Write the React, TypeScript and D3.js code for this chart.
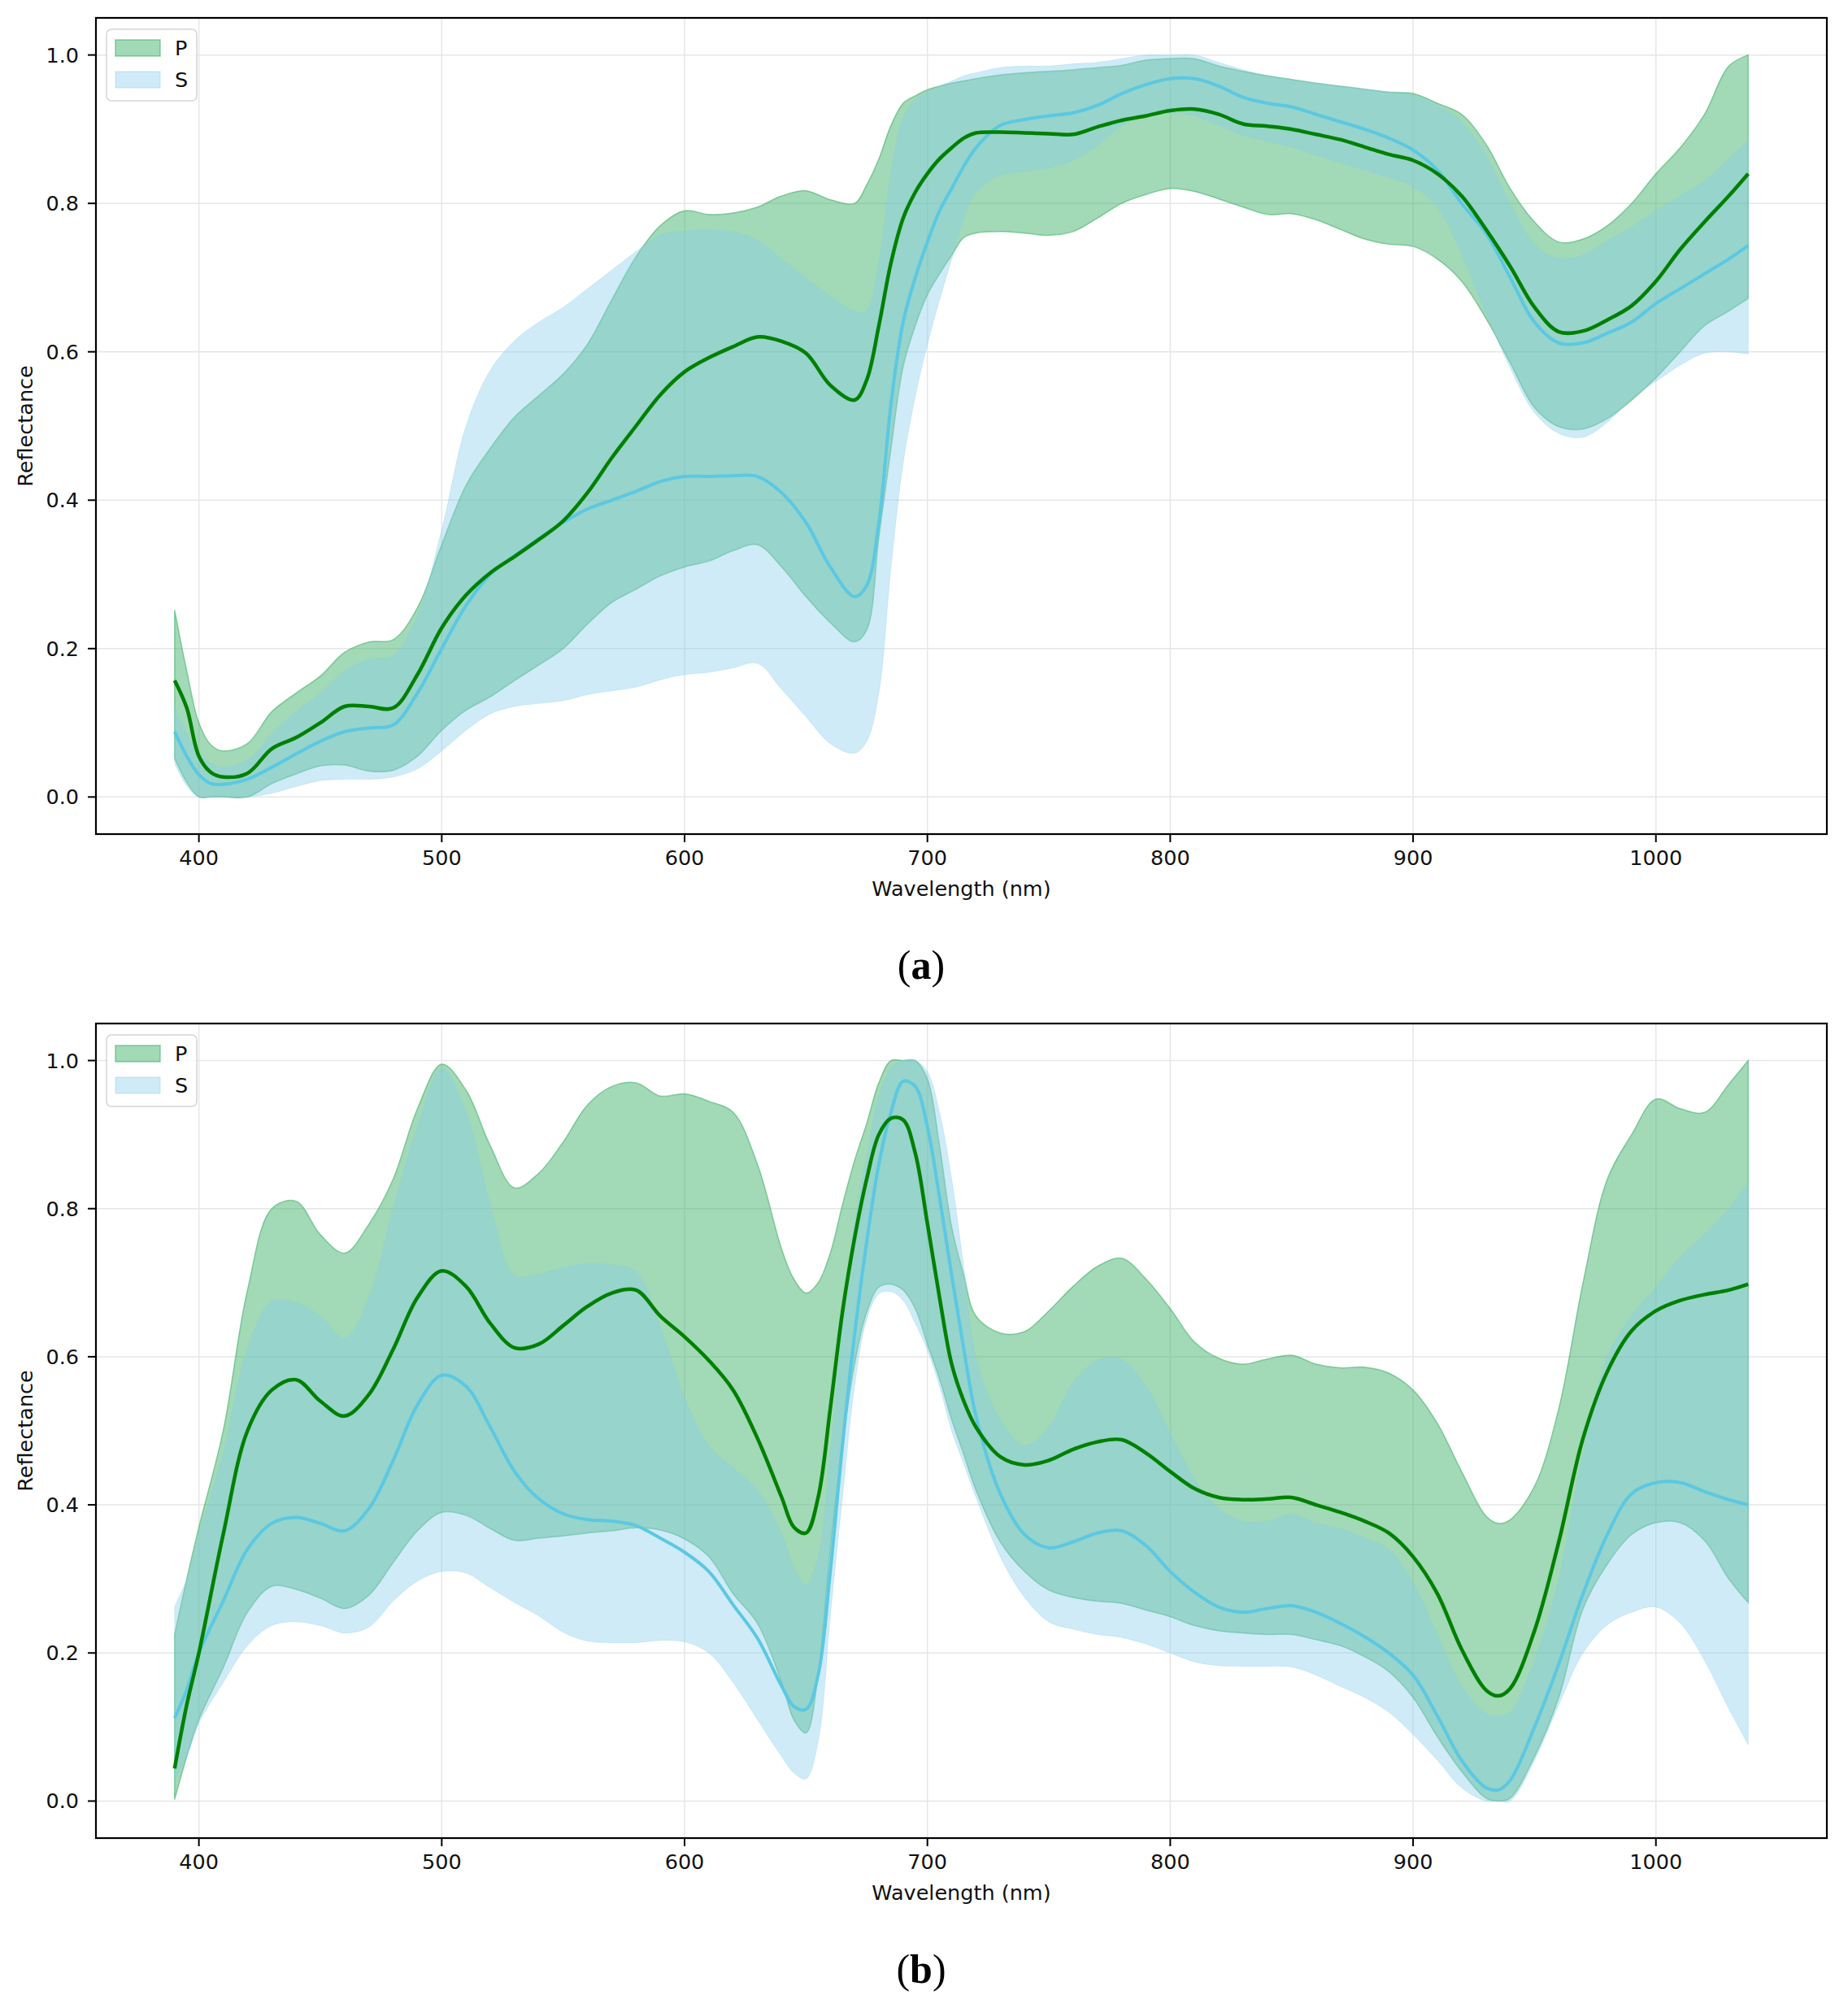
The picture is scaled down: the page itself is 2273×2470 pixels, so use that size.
import React from 'react';
import * as d3 from 'd3';

// ---- panel (a) ----
const wlA = [390, 395, 400, 405, 410,
  420, 430, 440, 450, 460, 470, 480, 490, 500, 510, 520, 530, 540, 550, 560, 570, 580, 590, 600, 610, 620, 630, 640, 650, 660, 670,
  675, 680, 685, 690, 695, 700, 705, 710, 715, 720,
  730, 740, 750, 760, 770, 780, 790, 800, 810, 820, 830, 840, 850, 860, 870, 880, 890, 900, 910, 920, 930, 940, 950, 960, 970, 980, 990, 1000, 1010, 1020, 1030,
  1038];

const pMeanA = [0.157, 0.12, 0.055, 0.033, 0.027,
  0.032, 0.065, 0.08, 0.10, 0.122, 0.122, 0.12, 0.165, 0.228, 0.272, 0.302, 0.324, 0.347, 0.372, 0.41, 0.457, 0.50, 0.542, 0.573, 0.592, 0.607, 0.62, 0.614, 0.598, 0.555, 0.535,
  0.562, 0.635, 0.72, 0.78, 0.815, 0.84, 0.86, 0.875, 0.888, 0.895,
  0.896, 0.895, 0.894, 0.893, 0.903, 0.912, 0.918, 0.925, 0.927, 0.92, 0.907, 0.904, 0.9, 0.893, 0.886, 0.876, 0.866, 0.858, 0.84, 0.81, 0.765, 0.715, 0.66, 0.627, 0.628, 0.643, 0.662, 0.695, 0.738, 0.775, 0.81,
  0.84];
const pLowA = [0.052, 0.02, 0.0, 0.0, 0.0,
  0.0, 0.018, 0.031, 0.042, 0.043, 0.035, 0.036, 0.055, 0.09, 0.117, 0.135, 0.157, 0.178, 0.2, 0.233, 0.262, 0.28, 0.298, 0.31, 0.318, 0.332, 0.34, 0.31, 0.27, 0.235, 0.209,
  0.225, 0.35, 0.47, 0.58, 0.635, 0.677, 0.705, 0.73, 0.754, 0.76,
  0.762, 0.76, 0.757, 0.762, 0.78, 0.80, 0.812, 0.82, 0.816, 0.806, 0.795, 0.785, 0.786, 0.778, 0.765, 0.752, 0.745, 0.742, 0.725, 0.695, 0.645, 0.585, 0.525, 0.499, 0.496, 0.51, 0.535, 0.565, 0.60, 0.635, 0.655,
  0.672];
const pUpA = [0.252, 0.17, 0.10, 0.07, 0.062,
  0.072, 0.115, 0.14, 0.163, 0.195, 0.209, 0.212, 0.255, 0.34, 0.42, 0.47, 0.512, 0.541, 0.57, 0.61, 0.67, 0.728, 0.77, 0.79, 0.785, 0.787, 0.795, 0.81, 0.817, 0.805, 0.80,
  0.825, 0.86, 0.905, 0.935, 0.945, 0.953, 0.958, 0.962, 0.965, 0.968,
  0.973, 0.976, 0.978, 0.98, 0.983, 0.986, 0.993, 0.995, 0.995, 0.985, 0.978, 0.972, 0.967, 0.962, 0.958, 0.954, 0.95, 0.948, 0.935, 0.92, 0.88, 0.82, 0.775, 0.748, 0.752, 0.77, 0.80, 0.84, 0.875, 0.92, 0.985,
  1.0];
const sMeanA = [0.088, 0.055, 0.03, 0.018, 0.017,
  0.024, 0.04, 0.058, 0.075, 0.088, 0.093, 0.097, 0.14, 0.2, 0.258, 0.3, 0.325, 0.348, 0.37, 0.388, 0.40, 0.412, 0.425, 0.432, 0.432, 0.433, 0.432, 0.41, 0.37, 0.31, 0.27,
  0.285, 0.37, 0.53, 0.64, 0.70, 0.748, 0.79, 0.82, 0.85, 0.875,
  0.905, 0.913, 0.918, 0.922, 0.932, 0.948, 0.96, 0.968, 0.968, 0.958, 0.943, 0.935, 0.93, 0.92, 0.91, 0.90, 0.888, 0.872, 0.845, 0.80, 0.76, 0.70, 0.64, 0.612, 0.612, 0.625, 0.64, 0.665, 0.685, 0.705, 0.725,
  0.743];
const sLowA = [0.045, 0.015, 0.0, 0.0, 0.0,
  0.0, 0.005, 0.014, 0.022, 0.024, 0.024, 0.027, 0.038, 0.062, 0.09, 0.112, 0.122, 0.126, 0.13, 0.138, 0.143, 0.148, 0.158, 0.165, 0.168, 0.174, 0.18, 0.145, 0.108, 0.072, 0.059,
  0.075, 0.14, 0.31, 0.45, 0.54, 0.61, 0.67, 0.725, 0.78, 0.815,
  0.838, 0.843, 0.848, 0.858, 0.878, 0.905, 0.918, 0.922, 0.918, 0.905, 0.892, 0.884, 0.876, 0.865, 0.855, 0.845, 0.835, 0.823, 0.795, 0.732, 0.652, 0.578, 0.518, 0.49, 0.485, 0.505, 0.537, 0.56, 0.582, 0.598, 0.60,
  0.597];
const sUpA = [0.12, 0.085, 0.06, 0.045, 0.04,
  0.05, 0.085, 0.115, 0.14, 0.17, 0.185, 0.19, 0.245, 0.36, 0.50, 0.575, 0.615, 0.64, 0.66, 0.685, 0.71, 0.735, 0.757, 0.763, 0.764, 0.762, 0.75, 0.725, 0.70, 0.675, 0.655,
  0.655, 0.72, 0.84, 0.915, 0.94, 0.95, 0.958, 0.965, 0.972, 0.976,
  0.983, 0.985, 0.985, 0.988, 0.99, 0.995, 1.0, 1.0, 1.0, 0.99, 0.98, 0.972, 0.967, 0.962, 0.958, 0.954, 0.95, 0.946, 0.932, 0.91, 0.865, 0.80, 0.745, 0.726, 0.73, 0.75, 0.768, 0.79, 0.81, 0.83, 0.86,
  0.885];

// ---- panel (b) ----
const wlB = [390, 395,
  400, 410, 420, 430, 440, 450, 460, 470, 480, 490, 500, 510, 520, 530, 540, 550, 560, 570, 580, 590, 600, 610, 620, 630, 640,
  645, 650, 655, 660, 665, 670, 675, 680, 685, 690, 695, 700, 705, 710, 715, 720,
  730, 740, 750, 760, 770, 780, 790, 800, 810, 820, 830, 840, 850, 860, 870, 880, 890, 900, 910, 920, 930,
  935,
  940, 950, 960, 970, 980, 990, 1000, 1010, 1020, 1030,
  1038];

const pMeanB = [0.044, 0.13,
  0.20, 0.36, 0.50, 0.555, 0.569, 0.54, 0.52, 0.549, 0.61, 0.68, 0.716, 0.695, 0.645, 0.612, 0.617, 0.642, 0.668, 0.686, 0.69, 0.655, 0.627, 0.595, 0.555, 0.49, 0.41,
  0.37, 0.362, 0.41, 0.53, 0.66, 0.76, 0.84, 0.90, 0.922, 0.92, 0.875, 0.78, 0.68, 0.59, 0.54, 0.505,
  0.465, 0.454, 0.46, 0.475, 0.485, 0.488, 0.47, 0.445, 0.422, 0.41, 0.407, 0.408, 0.41, 0.40, 0.39, 0.378, 0.362, 0.33, 0.28, 0.205, 0.15,
  0.142,
  0.152, 0.23, 0.35, 0.49, 0.58, 0.635, 0.662, 0.676, 0.684, 0.69,
  0.698];
const pLowB = [0.002, 0.06,
  0.11, 0.18, 0.255, 0.29, 0.286, 0.274, 0.26, 0.278, 0.322, 0.365, 0.39, 0.386, 0.368, 0.352, 0.355, 0.358, 0.362, 0.365, 0.369, 0.366, 0.354, 0.33, 0.28, 0.24, 0.16,
  0.11, 0.092, 0.17, 0.34, 0.48, 0.59, 0.66, 0.694, 0.698, 0.69, 0.665, 0.617, 0.57, 0.515, 0.468, 0.42,
  0.35, 0.31, 0.285, 0.275, 0.27, 0.267, 0.258, 0.249, 0.237, 0.23, 0.227, 0.225, 0.225, 0.218, 0.21, 0.195, 0.175, 0.14, 0.087, 0.04, 0.004,
  0.0,
  0.004, 0.06, 0.14, 0.26, 0.32, 0.36, 0.376, 0.376, 0.352, 0.30,
  0.268];
const pUpB = [0.225, 0.30,
  0.37, 0.50, 0.69, 0.80, 0.81, 0.765, 0.74, 0.779, 0.84, 0.935, 0.995, 0.96, 0.885, 0.828, 0.848, 0.89, 0.94, 0.965, 0.97, 0.952, 0.955, 0.945, 0.93, 0.86, 0.745,
  0.705, 0.686, 0.70, 0.74, 0.805, 0.865, 0.915, 0.97, 1.0, 1.0, 1.0, 0.975, 0.885, 0.775, 0.71, 0.655,
  0.632, 0.634, 0.662, 0.695, 0.722, 0.733, 0.705, 0.665, 0.62, 0.598, 0.59, 0.597, 0.602, 0.59, 0.585, 0.586, 0.578, 0.555, 0.51, 0.445, 0.385,
  0.375,
  0.38, 0.425, 0.53, 0.70, 0.84, 0.90, 0.948, 0.935, 0.93, 0.968,
  1.0];
const sMeanB = [0.112, 0.15,
  0.20, 0.27, 0.34, 0.375, 0.383, 0.375, 0.365, 0.395, 0.46, 0.535, 0.575, 0.56, 0.505, 0.445, 0.408, 0.388, 0.38, 0.378, 0.372, 0.355, 0.336, 0.31, 0.265, 0.22, 0.155,
  0.128, 0.124, 0.17, 0.31, 0.48, 0.63, 0.755, 0.86, 0.93, 0.972, 0.965, 0.91, 0.815, 0.71, 0.61, 0.52,
  0.415, 0.36, 0.342, 0.35, 0.362, 0.365, 0.345, 0.31, 0.282, 0.262, 0.255, 0.26, 0.264, 0.255, 0.24, 0.222, 0.20, 0.17, 0.115, 0.055, 0.018,
  0.015,
  0.028, 0.10, 0.185, 0.28, 0.36, 0.415, 0.43, 0.43, 0.418, 0.407,
  0.40];
const sLowB = [0.03, 0.06,
  0.105, 0.16, 0.21, 0.237, 0.242, 0.237, 0.227, 0.235, 0.27, 0.297, 0.31, 0.308, 0.288, 0.268, 0.25, 0.228, 0.216, 0.214, 0.214, 0.217, 0.215, 0.20, 0.16, 0.11, 0.06,
  0.038, 0.03, 0.08, 0.25, 0.41, 0.56, 0.65, 0.685, 0.688, 0.676, 0.645, 0.609, 0.56, 0.50, 0.455, 0.41,
  0.33, 0.275, 0.242, 0.232, 0.225, 0.221, 0.212, 0.20, 0.188, 0.183, 0.182, 0.182, 0.181, 0.17, 0.155, 0.14, 0.12, 0.09, 0.055, 0.018, 0.0,
  0.0,
  0.0, 0.055, 0.13, 0.20, 0.238, 0.255, 0.262, 0.24, 0.19, 0.125,
  0.076];
const sUpB = [0.263, 0.30,
  0.36, 0.47, 0.61, 0.675, 0.673, 0.655, 0.625, 0.68, 0.80, 0.91, 0.99, 0.93, 0.805, 0.71, 0.712, 0.72, 0.726, 0.724, 0.715, 0.64, 0.545, 0.48, 0.45, 0.42, 0.36,
  0.315, 0.292, 0.33, 0.47, 0.64, 0.78, 0.87, 0.95, 0.99, 1.0, 1.0, 0.985, 0.93, 0.84, 0.72, 0.60,
  0.515, 0.48, 0.505, 0.565, 0.595, 0.596, 0.56, 0.496, 0.435, 0.395, 0.378, 0.378, 0.387, 0.375, 0.368, 0.355, 0.34, 0.295, 0.225, 0.155, 0.118,
  0.115,
  0.12, 0.19, 0.30, 0.47, 0.60, 0.655, 0.694, 0.735, 0.765, 0.80,
  0.835];

const xTickVals = [400, 500, 600, 700, 800, 900, 1000];
const yTickVals = [0, 0.2, 0.4, 0.6, 0.8, 1.0];
const legendLabels = ['P', 'S'];

const P_FILL = '#3daf66';
const S_FILL = '#87ceeb';
const P_LINE = '#008000';
const S_LINE = '#5bc8e2';
const FONT = '"DejaVu Sans", sans-serif';
const FS = 25.5;

const LEFT = 118;
const RIGHT = 2247;

type PanelData = {
  wl: number[];
  pMean: number[]; pLow: number[]; pUp: number[];
  sMean: number[]; sLow: number[]; sUp: number[];
};

function Panel({ top, bottom, tag, d }: { top: number; bottom: number; tag: string; d: PanelData }) {
  const [w0, w1] = d3.extent(d.wl) as [number, number];
  const xPad = (w1 - w0) * 0.05;
  const x = d3.scaleLinear().domain([w0 - xPad, w1 + xPad]).range([LEFT, RIGHT]);
  const lo = d3.min([...d.pLow, ...d.sLow]) as number;
  const hi = d3.max([...d.pUp, ...d.sUp]) as number;
  const yPad = (hi - lo) * 0.05;
  const y = d3.scaleLinear().domain([lo - yPad, hi + yPad]).range([bottom, top]);

  const idx = d3.range(d.wl.length);
  const curve = d3.curveCatmullRom.alpha(0.5);
  const band = (a: number[], b: number[]) =>
    d3.area<number>().x(i => x(d.wl[i])).y0(i => y(a[i])).y1(i => y(b[i])).curve(curve)(idx) || '';
  const line = (v: number[]) =>
    d3.line<number>().x(i => x(d.wl[i])).y(i => y(v[i])).curve(curve)(idx) || '';

  return (
    <g>
      {/* grid */}
      {xTickVals.map(t => (
        <line key={'gx' + t} x1={x(t)} x2={x(t)} y1={top} y2={bottom} stroke="#e6e6e6" strokeWidth={1.5} />
      ))}
      {yTickVals.map(t => (
        <line key={'gy' + t} x1={LEFT} x2={RIGHT} y1={y(t)} y2={y(t)} stroke="#e6e6e6" strokeWidth={1.5} />
      ))}

      {/* bands */}
      <path d={band(d.pLow, d.pUp)} fill={P_FILL} fillOpacity={0.48} stroke={P_FILL} strokeOpacity={0.55} strokeWidth={1.5} />
      <path d={band(d.sLow, d.sUp)} fill={S_FILL} fillOpacity={0.4} stroke={S_FILL} strokeOpacity={0.3} strokeWidth={1} />

      {/* means */}
      <path d={line(d.sMean)} fill="none" stroke={S_LINE} strokeWidth={4} />
      <path d={line(d.pMean)} fill="none" stroke={P_LINE} strokeWidth={4.5} />

      {/* frame */}
      <rect x={LEFT} y={top} width={RIGHT - LEFT} height={bottom - top} fill="none" stroke="#000" strokeWidth={2.2} />

      {/* x axis */}
      {xTickVals.map(t => (
        <g key={'xt' + t}>
          <line x1={x(t)} x2={x(t)} y1={bottom} y2={bottom + 10} stroke="#000" strokeWidth={2} />
          <text x={x(t)} y={bottom + 38} textAnchor="middle" fontFamily={FONT} fontSize={FS} fill="#111">{t}</text>
        </g>
      ))}
      <text x={(LEFT + RIGHT) / 2} y={bottom + 76} textAnchor="middle" fontFamily={FONT} fontSize={FS} fill="#111">Wavelength (nm)</text>

      {/* y axis */}
      {yTickVals.map(t => (
        <g key={'yt' + t}>
          <line x1={LEFT - 10} x2={LEFT} y1={y(t)} y2={y(t)} stroke="#000" strokeWidth={2} />
          <text x={LEFT - 21} y={y(t) + 9} textAnchor="end" fontFamily={FONT} fontSize={FS} fill="#111">{t.toFixed(1)}</text>
        </g>
      ))}
      <text transform={`translate(31,${(top + bottom) / 2}) rotate(-90)`} textAnchor="middle" dominantBaseline="central"
        fontFamily={FONT} fontSize={FS} fill="#111">Reflectance</text>

      {/* legend */}
      <rect x={131} y={top + 14} width={111} height={88} rx={6} fill="#fff" fillOpacity={0.8} stroke="#d5d5d5" strokeWidth={1.5} />
      {legendLabels.map((name, i) => (
        <g key={name}>
          <rect x={142} y={top + 27 + i * 39} width={55} height={20}
            fill={i === 0 ? P_FILL : S_FILL} fillOpacity={i === 0 ? 0.48 : 0.4}
            stroke={i === 0 ? P_FILL : S_FILL} strokeOpacity={i === 0 ? 0.55 : 0.3} strokeWidth={1.5} />
          <text x={215} y={top + 46 + i * 39} fontFamily={FONT} fontSize={FS} fill="#111">{name}</text>
        </g>
      ))}

      {/* panel tag */}
      <text x={1133} y={bottom + 178} textAnchor="middle" fontFamily='"Liberation Serif", "DejaVu Serif", serif' fontSize={50} fill="#000">
        (<tspan fontWeight="bold">{tag}</tspan>)
      </text>
    </g>
  );
}

export default function App() {
  const a: PanelData = { wl: wlA, pMean: pMeanA, pLow: pLowA, pUp: pUpA, sMean: sMeanA, sLow: sLowA, sUp: sUpA };
  const b: PanelData = { wl: wlB, pMean: pMeanB, pLow: pLowB, pUp: pUpB, sMean: sMeanB, sLow: sLowB, sUp: sUpB };
  return (
    <div style={{ position: 'absolute', left: 0, top: 0 }}>
      <svg width={2273} height={2470} viewBox="0 0 2273 2470" style={{ display: 'block', background: '#fff' }}>
        <Panel top={22} bottom={1026} tag="a" d={a} />
        <Panel top={1259} bottom={2261} tag="b" d={b} />
      </svg>
    </div>
  );
}
